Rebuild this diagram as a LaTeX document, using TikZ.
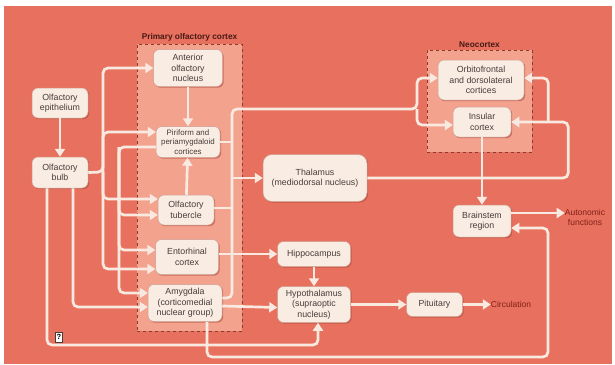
\documentclass[tikz,border=0pt]{standalone}
\usepackage{fontspec}
\setmainfont{Liberation Sans}
\usetikzlibrary{positioning,calc,arrows.meta,shadows}

\definecolor{bgcoral}{RGB}{232,112,94}
\definecolor{regionpink}{RGB}{243,162,142}
\definecolor{regionedge}{RGB}{140,58,48}
\definecolor{boxfill}{RGB}{249,236,227}
\definecolor{boxedge}{RGB}{205,160,146}
\definecolor{boxtext}{RGB}{72,60,58}
\definecolor{shadowcol}{RGB}{175,72,58}
\definecolor{flowcream}{RGB}{249,234,225}
\definecolor{labeldark}{RGB}{70,26,22}
\definecolor{outred}{RGB}{130,32,24}

\begin{document}
\begin{tikzpicture}[x=1pt,y=-1pt]
  \useasboundingbox (0,0) rectangle (615,364);
  \fill[white] (0,0) rectangle (615,364);
  \fill[bgcoral] (4,6) rectangle (612,364);

  \begin{scope}[
    every node/.style={
      rectangle,
      draw=regionedge,
      dashed,
      fill=regionpink,
      inner sep=0pt,
    },
    ]
    % Primary olfactory cortex
    \node [minimum width=105pt,minimum height=287pt] (PRI) at (189.5,187.5) {};
    % Neocortex
    \node [minimum width=105pt,minimum height=102pt] (NEO) at (479.5,101) {};
  \end{scope}
  \node [above=1pt of PRI,inner sep=1pt,text=labeldark,font=\bfseries\fontsize{8.3}{10}\selectfont] (PRIlabel) {Primary olfactory cortex};
  \node [above=1pt of NEO,inner sep=1pt,text=labeldark,font=\bfseries\fontsize{8.3}{10}\selectfont] (NEOlabel) {Neocortex};

  \begin{scope}[
    every node/.style={
      rectangle,
      rounded corners=6pt,
      draw=boxedge,
      line width=0.5pt,
      fill=boxfill,
      text=boxtext,
      align=center,
      inner sep=1pt,
      font=\fontsize{8.8}{10.5}\selectfont,
      drop shadow={shadow xshift=1.2pt,shadow yshift=-1.2pt,fill=shadowcol,opacity=0.6},
    },
    ]
    % Olfactory epithelium
    \node [minimum width=56pt,minimum height=30pt] (OE) at (60,103) {Olfactory\\epithelium};

    % Olfactory bulb
    \node [below=38.5pt of OE,minimum width=56pt,minimum height=31pt] (OB) {Olfactory\\bulb};

    % Anterior olfactory nucleus
    \node [minimum width=69pt,minimum height=37pt] (AON) at (188,68) {Anterior\\olfactory\\nucleus};

    % Piriform
    \node [minimum width=64pt,minimum height=31pt,font=\fontsize{7.9}{9.6}\selectfont,inner sep=0pt] (PIR) at (188,142) {Piriform and\\periamygdaloid\\cortices};

    % Olfactory tubercle
    \node [minimum width=56pt,minimum height=30pt] (OT) at (186,210) {Olfactory\\tubercle};

    % Entorhinal cortex
    \node [minimum width=63pt,minimum height=35pt] (EC) at (187,257) {Entorhinal\\cortex};

    % Amygdala
    \node [minimum width=74pt,minimum height=37pt] (AMY) at (185,303) {Amygdala\\(corticomedial\\nuclear group)};

    % Thalamus
    \node [minimum width=104pt,minimum height=47pt,rounded corners=9pt] (TH) at (315,178) {Thalamus\\(mediodorsal nucleus)};

    % Hippocampus
    \node [minimum width=73pt,minimum height=25pt] (HIP) at (314,254) {Hippocampus};

    % Hypothalamus
    \node [below=19.5pt of HIP,minimum width=73pt,minimum height=36pt] (HYP) {Hypothalamus\\(supraoptic\\nucleus)};

    % Pituitary
    \node [right=55.5pt of HYP,minimum width=56pt,minimum height=24pt] (PIT) {Pituitary};

    % Orbitofrontal
    \node [minimum width=86pt,minimum height=40pt] (OFC) at (481,80) {Orbitofrontal\\and dorsolateral\\cortices};

    % Insular cortex
    \node [minimum width=58pt,minimum height=30pt] (INS) at (482,122) {Insular\\cortex};

    % Brainstem
    \node [minimum width=58pt,minimum height=32pt] (BS) at (482,221) {Brainstem\\region};
  \end{scope}

  % outputs
  \node [right=28pt of PIT,inner sep=0pt,text=outred,font=\fontsize{8.5}{10}\selectfont] (CIRC) {Circulation};
  \node [align=center,inner sep=0pt,text=outred,font=\fontsize{8.5}{10}\selectfont] (AUTO) at (585,217) {Autonomic\\functions};
  \node [draw=boxtext,fill=white,inner sep=0.5pt,minimum width=7pt,minimum height=10pt,font=\bfseries\fontsize{7.5}{8}\selectfont] (Q) at (59,337) {?};

  \begin{scope}[
    flow/.style={
      draw=flowcream,
      line width=2.7pt,
      rounded corners=5pt,
      -{Triangle[width=10pt,length=8pt]},
    },
    feed/.style={flow,-},
    ]
    \coordinate (oOB) at (103,172);
    \coordinate (oPIR) at (119,147);
    \coordinate (oRT) at (232,109);
    \coordinate (oNEO) at (417,109);

    % Path OE
    \draw [flow] (OE) -- (OB);

    % Path OB
    \draw [flow] (OB.east) -- (oOB) |- (AON.west);
    \draw [flow] (oOB) |- ([yshift=10pt]PIR.west);
    \draw [flow] (oOB) |- ([yshift=11pt]OT.west);
    \draw [flow] (oOB) |- ([yshift=-12pt]EC.west);
    \draw [flow] ([xshift=13pt]OB.south) |- ([yshift=-4pt]AMY.west);
    \draw [flow] ([xshift=-13pt]OB.south) |- (100,345) -| ([xshift=4pt]HYP.south);

    % Path AON, OT
    \draw [flow] (AON) -- (PIR);
    \draw [flow] (OT) -- (PIR);

    % Path PIR
    \draw [flow] ([yshift=-5pt]PIR.west) -- (oPIR) |- ([yshift=-5pt]OT.west);
    \draw [flow] (oPIR) |- ([yshift=7pt]EC.west);
    \draw [flow] (oPIR) |- ([yshift=10pt]AMY.west);

    % right trunk to thalamus and neocortex
    \draw [flow] ([yshift=5pt]AMY.east) -| (oRT) -- (oNEO) |- ([yshift=2pt]OFC.west);
    \draw [flow] (oNEO) |- ([yshift=-3pt]INS.west);
    \draw [feed] (PIR.east) -- (PIR.east -| oRT);
    \draw [feed] ([yshift=2pt]OT.east) -- ([yshift=2pt]OT.east -| oRT);
    \draw [flow] (oRT |- TH.west) -- (TH.west);

    % Path EC, AMY
    \draw [flow] (EC.east |- HIP.west) -- (HIP.west);
    \draw [flow] ([yshift=-3pt]AMY.east) -- ([yshift=-3pt]HYP.west);
    \draw [flow] ([xshift=22pt]AMY.south) |- (548,357) |- ([yshift=-7pt]BS.east);

    % Path HIP, HYP, PIT
    \draw [flow] (HIP) -- (HYP);
    \draw [flow] (HYP) -- (PIT);
    \draw [flow] (PIT) -- (CIRC);

    % Path TH, INS, BS
    \draw [flow] (TH.east) -| ([xshift=57pt]INS.east) -- (INS.east);
    \draw [flow] ([xshift=37pt]INS.east) |- ([yshift=2pt]OFC.east);
    \draw [flow] (INS) -- (BS);
    \draw [flow] ([yshift=8pt]BS.east) -- ([yshift=8pt]BS.east -| AUTO.west);
  \end{scope}
\end{tikzpicture}
\end{document}
